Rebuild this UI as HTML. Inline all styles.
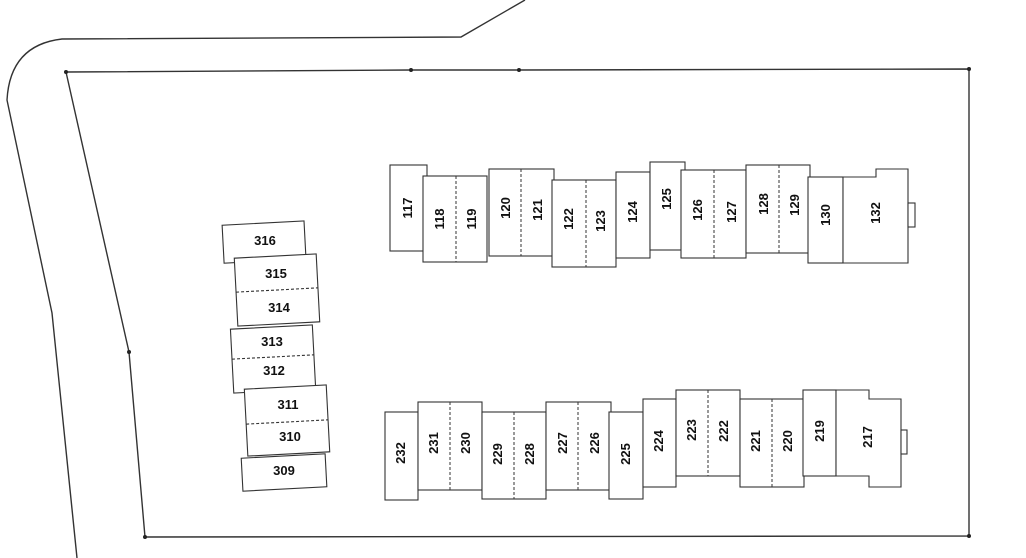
<!DOCTYPE html>
<html><head><meta charset="utf-8"><style>
html,body{margin:0;padding:0;background:#fff;}
svg{display:block;}
text{font-family:"Liberation Sans",sans-serif;font-weight:bold;font-size:13px;fill:#111;}
</style></head><body>
<svg width="1026" height="558" viewBox="0 0 1026 558" xmlns="http://www.w3.org/2000/svg">
<g fill="none" stroke="#333" stroke-width="1.4">
<path d="M525,0 L461,37 L62,39 Q10,45 7,100 L52,313 L77,558"/>
<path d="M66,72 L411,70 L519,70 L969,69 L969,536 L145,537 L129,352 Z"/>
</g>
<g fill="#222"><circle cx="66" cy="72" r="2"/><circle cx="411" cy="70" r="2"/><circle cx="519" cy="70" r="2"/><circle cx="969" cy="69" r="2"/><circle cx="969" cy="536" r="2"/><circle cx="145" cy="537" r="2"/><circle cx="129" cy="352" r="2"/></g>

<g fill="#fff" stroke="#333" stroke-width="1.1">
<rect x="390" y="165" width="37" height="86"/>
<rect x="423" y="176" width="64" height="86"/>
<rect x="489" y="169" width="65" height="87"/>
<rect x="552" y="180" width="64" height="87"/>
<rect x="616" y="172" width="34" height="86"/>
<rect x="650" y="162" width="35" height="88"/>
<rect x="681" y="170" width="65" height="88"/>
<rect x="746" y="165" width="64" height="88"/>
<rect x="808" y="177" width="35" height="86"/>
<path d="M843,177 L876,177 L876,169 L908,169 L908,263 L843,263 Z"/>
<rect x="908" y="203" width="7" height="24"/>
<rect x="385" y="412" width="33" height="88"/>
<rect x="418" y="402" width="64" height="88"/>
<rect x="482" y="412" width="64" height="87"/>
<rect x="546" y="402" width="65" height="88"/>
<rect x="609" y="412" width="34" height="87"/>
<rect x="643" y="399" width="33" height="88"/>
<rect x="676" y="390" width="64" height="86"/>
<rect x="740" y="399" width="64" height="88"/>
<rect x="803" y="390" width="33" height="86"/>
<path d="M836,390 L869,390 L869,399 L901,399 L901,487 L869,487 L869,476 L836,476 Z"/>
<rect x="901" y="430" width="6" height="24"/>
</g>
<g stroke="#333" stroke-width="1" stroke-dasharray="3,2">
<line x1="456" y1="176" x2="456" y2="262"/>
<line x1="521" y1="169" x2="521" y2="256"/>
<line x1="586" y1="180" x2="586" y2="267"/>
<line x1="714" y1="170" x2="714" y2="258"/>
<line x1="779" y1="165" x2="779" y2="253"/>
<line x1="450" y1="402" x2="450" y2="490"/>
<line x1="514" y1="412" x2="514" y2="499"/>
<line x1="578" y1="402" x2="578" y2="490"/>
<line x1="708" y1="390" x2="708" y2="476"/>
<line x1="772" y1="399" x2="772" y2="487"/>
</g>
<g>
<text transform="translate(412,208) rotate(-90)" text-anchor="middle">117</text>
<text transform="translate(444,219) rotate(-90)" text-anchor="middle">118</text>
<text transform="translate(476,219) rotate(-90)" text-anchor="middle">119</text>
<text transform="translate(510,208) rotate(-90)" text-anchor="middle">120</text>
<text transform="translate(542,210) rotate(-90)" text-anchor="middle">121</text>
<text transform="translate(573,219) rotate(-90)" text-anchor="middle">122</text>
<text transform="translate(605,221) rotate(-90)" text-anchor="middle">123</text>
<text transform="translate(637,212) rotate(-90)" text-anchor="middle">124</text>
<text transform="translate(671,199) rotate(-90)" text-anchor="middle">125</text>
<text transform="translate(702,210) rotate(-90)" text-anchor="middle">126</text>
<text transform="translate(736,212) rotate(-90)" text-anchor="middle">127</text>
<text transform="translate(768,204) rotate(-90)" text-anchor="middle">128</text>
<text transform="translate(799,205) rotate(-90)" text-anchor="middle">129</text>
<text transform="translate(830,215) rotate(-90)" text-anchor="middle">130</text>
<text transform="translate(880,213) rotate(-90)" text-anchor="middle">132</text>
<text transform="translate(405,453) rotate(-90)" text-anchor="middle">232</text>
<text transform="translate(438,443) rotate(-90)" text-anchor="middle">231</text>
<text transform="translate(470,443) rotate(-90)" text-anchor="middle">230</text>
<text transform="translate(502,454) rotate(-90)" text-anchor="middle">229</text>
<text transform="translate(534,454) rotate(-90)" text-anchor="middle">228</text>
<text transform="translate(567,443) rotate(-90)" text-anchor="middle">227</text>
<text transform="translate(599,443) rotate(-90)" text-anchor="middle">226</text>
<text transform="translate(630,454) rotate(-90)" text-anchor="middle">225</text>
<text transform="translate(663,441) rotate(-90)" text-anchor="middle">224</text>
<text transform="translate(696,430) rotate(-90)" text-anchor="middle">223</text>
<text transform="translate(728,431) rotate(-90)" text-anchor="middle">222</text>
<text transform="translate(760,441) rotate(-90)" text-anchor="middle">221</text>
<text transform="translate(792,441) rotate(-90)" text-anchor="middle">220</text>
<text transform="translate(824,431) rotate(-90)" text-anchor="middle">219</text>
<text transform="translate(872,437) rotate(-90)" text-anchor="middle">217</text>
</g>
<g fill="#fff" stroke="#333" stroke-width="1.1">
<g transform="rotate(-3,265,241)"><rect x="223" y="223" width="82" height="38"/></g>
<g transform="rotate(-3,277,290)"><rect x="236" y="256" width="82" height="68"/><line x1="236" y1="290" x2="318" y2="290" stroke-dasharray="3,2"/></g>
<g transform="rotate(-3,273,358)"><rect x="232" y="327" width="82" height="64"/><line x1="232" y1="357" x2="314" y2="357" stroke-dasharray="3,2"/></g>
<g transform="rotate(-3,287,420)"><rect x="246" y="387" width="82" height="67"/><line x1="246" y1="422" x2="328" y2="422" stroke-dasharray="3,2"/></g>
<g transform="rotate(-3,284,472)"><rect x="242" y="456" width="84" height="33"/></g>
</g>
<g text-anchor="middle">
<text x="265" y="245">316</text>
<text x="276" y="278">315</text>
<text x="279" y="312">314</text>
<text x="272" y="346">313</text>
<text x="274" y="375">312</text>
<text x="288" y="409">311</text>
<text x="290" y="441">310</text>
<text x="284" y="475">309</text>
</g>
</svg>
</body></html>
